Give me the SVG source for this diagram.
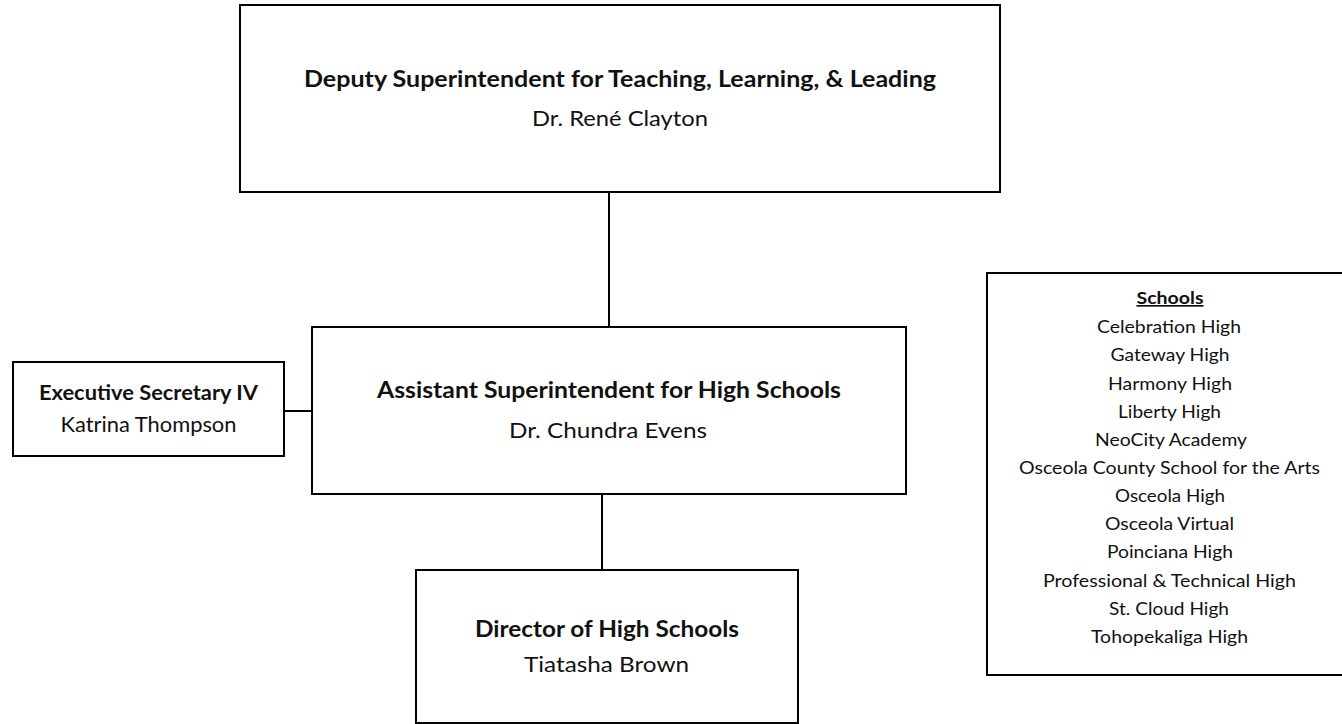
<svg xmlns="http://www.w3.org/2000/svg" width="1342" height="724" viewBox="0 0 1342 724">
<style>
.box{fill:#fff;stroke:#000;stroke-width:2}
.conn{stroke:#000;stroke-width:2;fill:none}
text{font-family:Lato,"Open Sans","Liberation Sans",sans-serif;fill:#111;text-anchor:middle}
.t{font-weight:bold;font-size:23px}
.n{font-size:21px}
.ts{font-weight:bold;font-size:20.5px}
.ns{font-size:20.5px}
.s{font-size:17px}
.sh{font-size:17px;font-weight:bold;text-decoration:underline}
</style>
<rect width="1342" height="724" fill="#fff"/>
<g id="connectors">
<line class="conn" x1="609" y1="192" x2="609" y2="327"/>
<line class="conn" x1="602" y1="494" x2="602" y2="570"/>
<line class="conn" x1="284" y1="411" x2="312" y2="411"/>
</g>
<g id="deputy">
<rect class="box" x="240" y="5" width="760" height="187"/>
<text class="t" x="620" y="87" textLength="632" lengthAdjust="spacingAndGlyphs">Deputy Superintendent for Teaching, Learning, &amp; Leading</text>
<text class="n" x="620" y="126" textLength="176" lengthAdjust="spacingAndGlyphs">Dr. René Clayton</text>
</g>
<g id="exec-secretary">
<rect class="box" x="13" y="362" width="271" height="94"/>
<text class="ts" x="148.5" y="400" textLength="219" lengthAdjust="spacingAndGlyphs">Executive Secretary IV</text>
<text class="ns" x="148.5" y="432" textLength="176" lengthAdjust="spacingAndGlyphs">Katrina Thompson</text>
</g>
<g id="assistant">
<rect class="box" x="312" y="327" width="594" height="167"/>
<text class="t" x="609" y="398" textLength="464" lengthAdjust="spacingAndGlyphs">Assistant Superintendent for High Schools</text>
<text class="n" x="608" y="438" textLength="198" lengthAdjust="spacingAndGlyphs">Dr. Chundra Evens</text>
</g>
<g id="director">
<rect class="box" x="416" y="570" width="382" height="153"/>
<text class="t" x="607" y="637" textLength="264" lengthAdjust="spacingAndGlyphs">Director of High Schools</text>
<text class="n" x="606.5" y="672" textLength="165" lengthAdjust="spacingAndGlyphs">Tiatasha Brown</text>
</g>
<g id="schools">
<rect class="box" x="987" y="273" width="365" height="402"/>
<text class="sh" x="1170" y="304" textLength="67" lengthAdjust="spacingAndGlyphs">Schools</text>
<text class="s" x="1169" y="333" textLength="144" lengthAdjust="spacingAndGlyphs">Celebration High</text>
<text class="s" x="1170" y="361" textLength="119" lengthAdjust="spacingAndGlyphs">Gateway High</text>
<text class="s" x="1170" y="389.5" textLength="124" lengthAdjust="spacingAndGlyphs">Harmony High</text>
<text class="s" x="1169.5" y="417.5" textLength="103" lengthAdjust="spacingAndGlyphs">Liberty High</text>
<text class="s" x="1171" y="445.5" textLength="152" lengthAdjust="spacingAndGlyphs">NeoCity Academy</text>
<text class="s" x="1169.5" y="473.5" textLength="301" lengthAdjust="spacingAndGlyphs">Osceola County School for the Arts</text>
<text class="s" x="1170" y="502" textLength="110" lengthAdjust="spacingAndGlyphs">Osceola High</text>
<text class="s" x="1169.5" y="530" textLength="129" lengthAdjust="spacingAndGlyphs">Osceola Virtual</text>
<text class="s" x="1170" y="558" textLength="126" lengthAdjust="spacingAndGlyphs">Poinciana High</text>
<text class="s" x="1169.5" y="586.5" textLength="253" lengthAdjust="spacingAndGlyphs">Professional &amp; Technical High</text>
<text class="s" x="1169" y="614.5" textLength="120" lengthAdjust="spacingAndGlyphs">St. Cloud High</text>
<text class="s" x="1169.5" y="642.5" textLength="157" lengthAdjust="spacingAndGlyphs">Tohopekaliga High</text>
</g>
</svg>
